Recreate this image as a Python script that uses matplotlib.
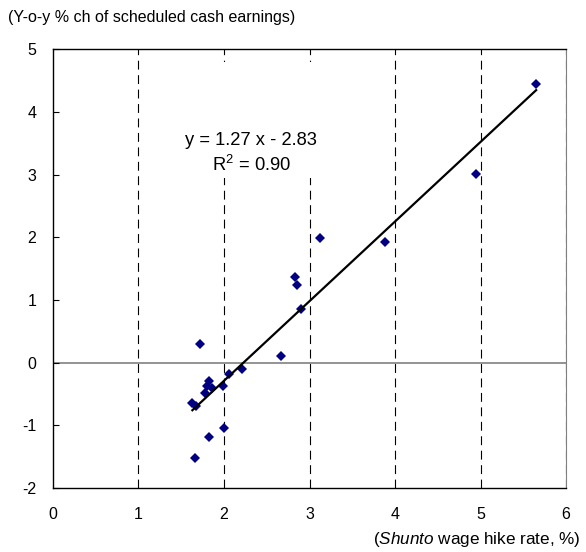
import numpy as np
import matplotlib
matplotlib.use("Agg")
import matplotlib.pyplot as plt
from matplotlib.patches import Rectangle

plt.rcParams['font.family'] = ['Liberation Sans', 'DejaVu Sans']
plt.rcParams['mathtext.fontset'] = 'custom'
plt.rcParams['mathtext.rm'] = 'Liberation Sans'
plt.rcParams['mathtext.it'] = 'Liberation Sans:italic'
plt.rcParams['axes.unicode_minus'] = False

# Shunto wage hike rate (%) vs y-o-y % ch of scheduled cash earnings
shunto = [5.65, 4.95, 3.88, 3.12, 2.83, 2.85, 2.90, 2.67, 1.72, 2.21, 2.06,
          1.82, 1.80, 1.86, 1.99, 1.78, 1.63, 1.67, 2.00, 1.82, 1.66]
earnings = [4.45, 3.01, 1.93, 1.98, 1.36, 1.24, 0.86, 0.10, 0.30, -0.10, -0.18,
            -0.29, -0.38, -0.40, -0.38, -0.49, -0.65, -0.69, -1.04, -1.18, -1.52]
slope = 1.27
intercept = -2.83
r2 = 0.90
x_ticks = [0, 1, 2, 3, 4, 5, 6]
y_ticks = [-2, -1, 0, 1, 2, 3, 4, 5]

fig = plt.figure(figsize=(5.86, 5.52), dpi=100)
ax = fig.add_axes([0.0904, 0.116, 0.8756, 0.795])

# vertical dashed grid
for xv in x_ticks[1:]:
    ax.axvline(xv, color='black', lw=0.8, ls=(0, (8, 5)), zorder=1)
ax.axhline(0, color='#808080', lw=1.2, zorder=1)

# box behind the equation label
ax.add_patch(Rectangle((1.3, 2.95), 2.1, 1.85, facecolor='white',
                       edgecolor='none', zorder=2))

ax.plot(shunto, earnings, ls='none', marker='D', ms=5.5, color='#000080',
        markeredgewidth=0, zorder=3)

xs = np.array([min(shunto), max(shunto)])
ax.plot(xs, slope * xs + intercept, color='black', lw=1.6, zorder=4)

ax.text(2.32, 3.55, "y = %.2f x - %.2f" % (slope, -intercept), ha='center',
        va='center', fontsize=13.2, zorder=5)
ax.text(2.32, 3.15, "R$^2$ = %.2f" % r2, ha='center', va='center',
        fontsize=13.2, zorder=5)

ax.set_xlim(0, 6)
ax.set_ylim(-2, 5)
ax.set_xticks(x_ticks)
ax.set_yticks(y_ticks)
ax.tick_params(axis='x', length=0, pad=14, labelsize=11.5)
ax.tick_params(axis='y', direction='in', length=4, pad=12, labelsize=11.5)
ax.spines['right'].set_color('#808080')
for s in ['left', 'bottom', 'top']:
    ax.spines[s].set_linewidth(1.0)

fig.text(0.014, 0.968, "(Y-o-y % ch of scheduled cash earnings)",
         ha='left', va='center', fontsize=11.5)
fig.text(0.99, 0.022, "($\\it{Shunto}$ wage hike rate, %)",
         ha='right', va='center', fontsize=12.3)

fig.savefig("out.png", dpi=100)
